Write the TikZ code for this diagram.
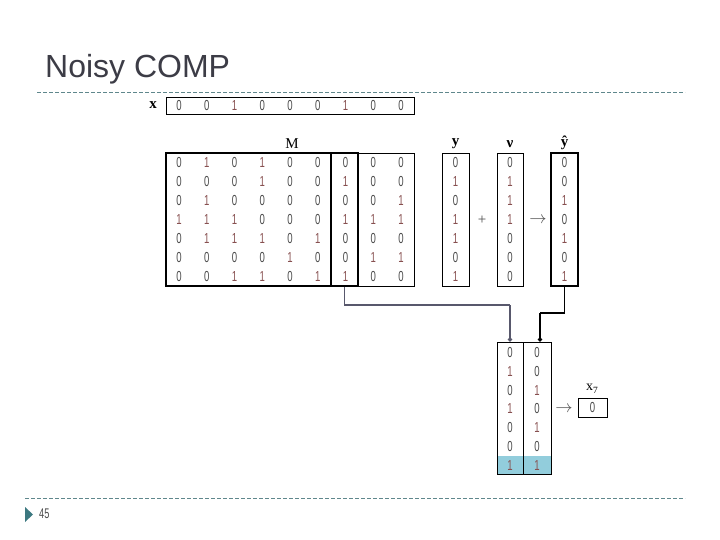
\documentclass[tikz,border=0pt]{standalone}
\usepackage{fontspec}
\setmainfont{Liberation Serif}
\newfontfamily\titlefont{Liberation Sans}
\newfontfamily\digitfont[FakeStretch=0.66]{Liberation Sans}
\usetikzlibrary{arrows.meta}
\definecolor{zc}{RGB}{75,75,75}
\definecolor{oc}{RGB}{135,80,80}
\definecolor{dashc}{RGB}{95,135,140}
\definecolor{tri}{RGB}{60,120,128}
\definecolor{hl}{RGB}{146,205,220}
\definecolor{conn}{RGB}{88,88,108}
\definecolor{titlec}{RGB}{60,60,70}
\tikzset{
  dig/.style={inner sep=0pt, font=\digitfont\fontsize{14.5}{14.5}\selectfont},
  d0/.style={text=zc},
  d1/.style={text=oc},
  thinbox/.style={draw=black, line width=0.9pt, inner sep=0pt},
  thickbox/.style={draw=black, line width=2.6pt, inner sep=0pt},
  lab/.style={inner sep=0pt, font=\fontsize{15}{15}\selectfont},
  blab/.style={inner sep=0pt, font=\bfseries\fontsize{15}{15}\selectfont},
  sepline/.style={draw=dashc, line width=0.8pt, dash pattern=on 4pt off 2pt},
}
\begin{document}
\begin{tikzpicture}[x=1pt,y=-1pt]
\useasboundingbox (0,0) rectangle (720,540);
% title and separators
\node[anchor=base west, inner sep=0pt, text=titlec, font=\titlefont\fontsize{32}{32}\selectfont] (title) at (45,78) {Noisy COMP};
\draw[sepline] (37,92) -- (685,92);
\draw[sepline] (25,498) -- (685,498);
\fill[tri] (25,507) -- (33,514.5) -- (25,522) -- cycle;
\node[anchor=west, inner sep=0pt, text=zc, font=\digitfont\fontsize{14}{14}\selectfont] (pg) at (39,514) {45};
% x row
\node[blab] (xl) at (153,105) {x};
\node[thinbox, minimum width=248pt, minimum height=17pt] (xbox) at (290,106) {};
\foreach \v [count=\c] in {0,0,1,0,0,0,1,0,0}
  \node[dig, d\v] (x\c) at ({179+27.75*(\c-1)},106) {\v};
% matrix
\node[lab] (ml) at (292,144) {M};
\node[thinbox, minimum width=248pt, minimum height=133pt] (mall) at (290,219.5) {};
\node[thickbox, minimum width=192pt, minimum height=133pt] (mleft) at (262,219.5) {};
\node[thickbox, minimum width=27pt, minimum height=133pt] (col7) at (344.5,219.5) {};
\foreach \r/\vals in {1/{0,1,0,1,0,0,0,0,0},2/{0,0,0,1,0,0,1,0,0},3/{0,1,0,0,0,0,0,0,1},4/{1,1,1,0,0,0,1,1,1},5/{0,1,1,1,0,1,0,0,0},6/{0,0,0,0,1,0,0,1,1},7/{0,0,1,1,0,1,1,0,0}}
  \foreach \v [count=\c] in \vals
    \node[dig, d\v] (m\r-\c) at ({179+27.75*(\c-1)},{163+18.9*(\r-1)}) {\v};
% y, nu, yhat
\node[blab] (yl) at (455.5,144) {y};
\node[blab] (nl) at (510,144) {ν};
\node[blab] (hl) at (564.5,142.5) {ŷ};
\node[thinbox, minimum width=27pt, minimum height=133pt] (ybox) at (455.5,219.5) {};
\node[thinbox, minimum width=26pt, minimum height=133pt] (nbox) at (510,219.5) {};
\node[thickbox, minimum width=27pt, minimum height=133pt] (hbox) at (564.5,219.5) {};
\foreach \v [count=\r] in {0,1,0,1,1,0,1}
  \node[dig, d\v] (y\r) at (455.5,{163+18.9*(\r-1)}) {\v};
\foreach \v [count=\r] in {0,1,1,1,0,0,0}
  \node[dig, d\v] (n\r) at (510,{163+18.9*(\r-1)}) {\v};
\foreach \v [count=\r] in {0,0,1,0,1,0,1}
  \node[dig, d\v] (h\r) at (564.5,{163+18.9*(\r-1)}) {\v};
\node[inner sep=0pt, text=zc, font=\fontsize{15}{15}\selectfont] (plus) at (482,220) {+};
\node[inner sep=0pt, text=zc, font=\fontsize{16}{16}\selectfont] (arr1) at (538,220) {$\rightarrow$};
% bottom columns
\fill[hl] (497,455.5) rectangle (551,474);
\node[thinbox, minimum width=26pt, minimum height=132pt] (bl) at (510,408) {};
\node[thinbox, minimum width=28pt, minimum height=132pt] (br) at (537,408) {};
\foreach \v [count=\r] in {0,1,0,1,0,0,1}
  \node[dig, d\v] (bl\r) at (510,{352.5+18.8*(\r-1)}) {\v};
\foreach \v [count=\r] in {0,0,1,0,1,0,1}
  \node[dig, d\v] (br\r) at (537,{352.5+18.8*(\r-1)}) {\v};
\node[inner sep=0pt, text=zc, font=\fontsize{16}{16}\selectfont] (arr2) at (564,409) {$\rightarrow$};
\node[thinbox, minimum width=29pt, minimum height=19pt] (x7box) at (592.5,407.5) {};
\node[dig, d0] (x7v) at (592.5,407.5) {0};
\node[lab, font=\fontsize{14}{14}\selectfont] (x7l) at (592,389) {x\raisebox{-2.5pt}{\fontsize{9.5}{9.5}\selectfont 7}};
% connectors
\coordinate (k1) at (510,305);
\coordinate (k2) at (540,313);
\draw[conn, line width=1.2pt] (col7.south) |- (k1);
\draw[conn, line width=2.2pt, -{Circle[length=4pt]}] (k1) -- (bl.north);
\draw[black, line width=1.2pt] (hbox.south) |- (k2);
\draw[black, line width=2.4pt, -{Circle[length=4pt]}] (k2) -- (k2 |- br.north);
\end{tikzpicture}
\end{document}
